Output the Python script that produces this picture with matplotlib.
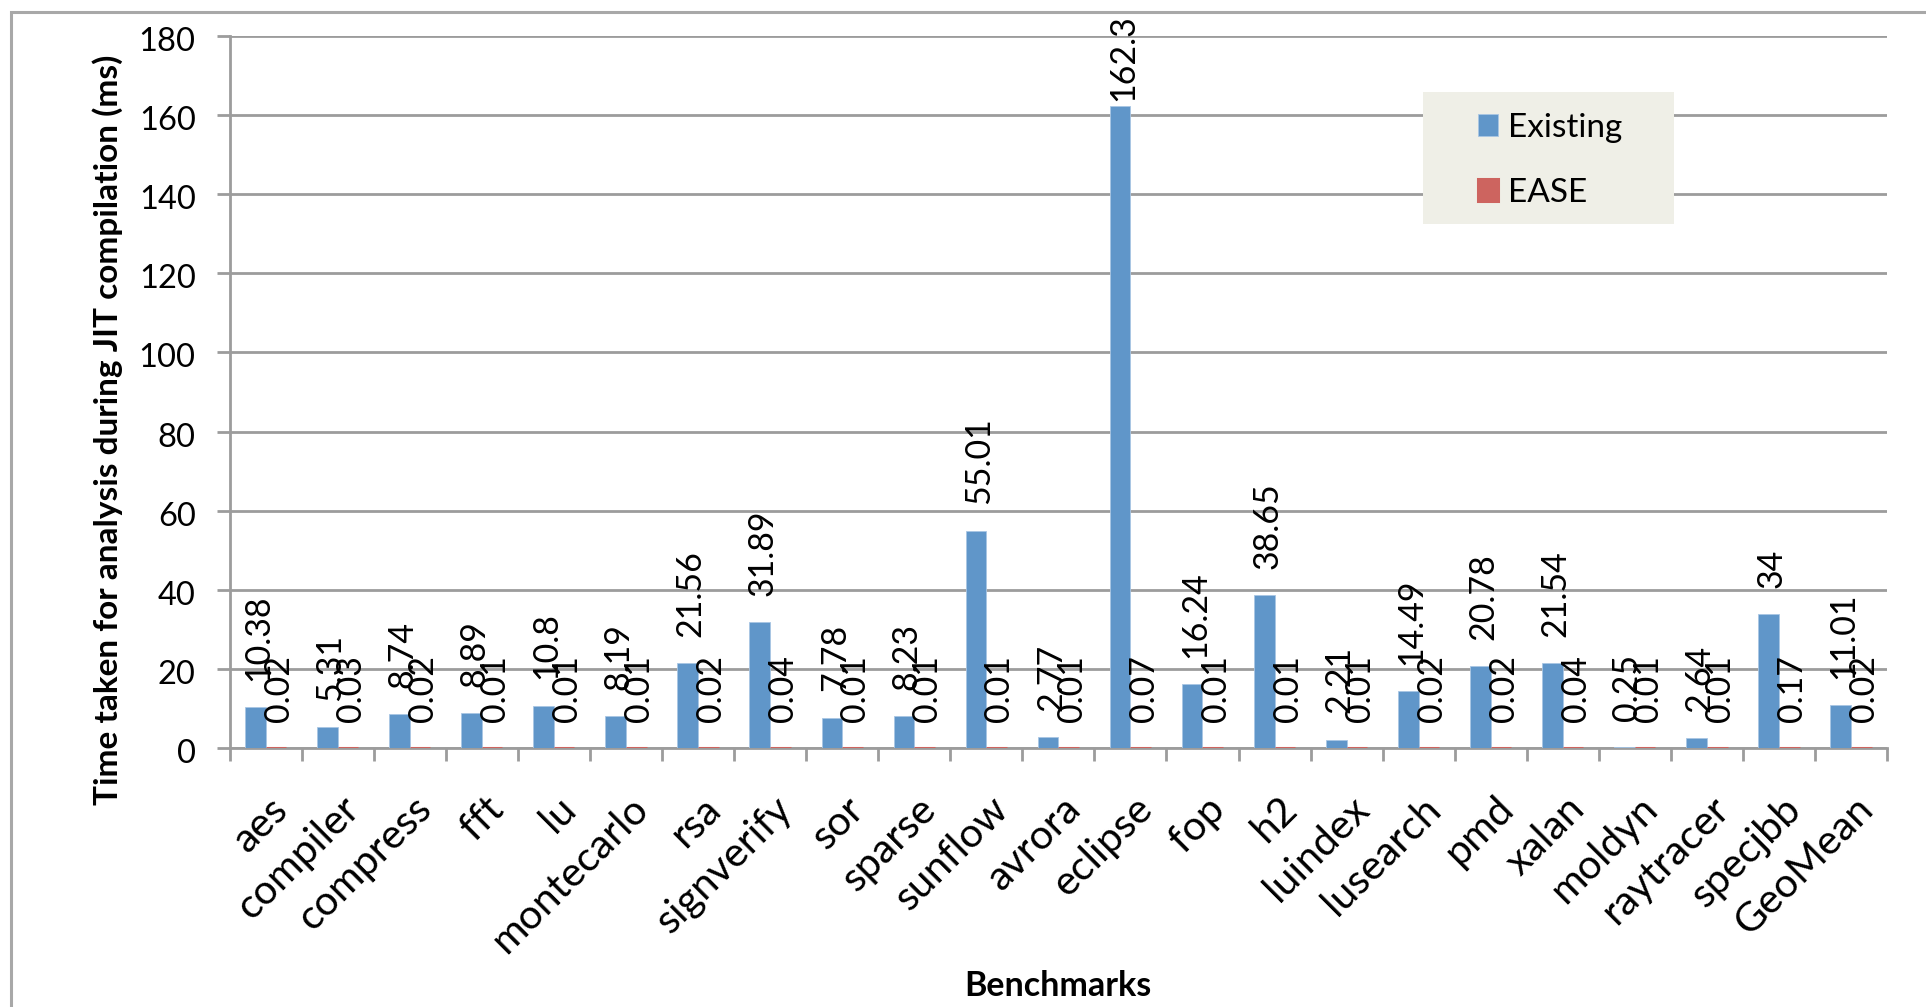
import matplotlib.pyplot as plt
from matplotlib.patches import Rectangle
from matplotlib.transforms import ScaledTranslation
import numpy as np

benchmarks = ['aes', 'compiler', 'compress', 'fft', 'lu', 'montecarlo', 'rsa',
              'signverify', 'sor', 'sparse', 'sunflow', 'avrora', 'eclipse', 'fop',
              'h2', 'luindex', 'lusearch', 'pmd', 'xalan', 'moldyn', 'raytracer',
              'specjbb', 'GeoMean']
existing = [10.38, 5.31, 8.74, 8.89, 10.8, 8.19, 21.56, 31.89, 7.78, 8.23, 55.01,
            2.77, 162.3, 16.24, 38.65, 2.21, 14.49, 20.78, 21.54, 0.25, 2.64, 34, 11.01]
ease = [0.02, 0.03, 0.02, 0.01, 0.01, 0.01, 0.02, 0.04, 0.01, 0.01, 0.01,
        0.01, 0.07, 0.01, 0.01, 0.01, 0.02, 0.02, 0.04, 0.01, 0.01, 0.17, 0.02]
existing_labels = ['10.38', '5.31', '8.74', '8.89', '10.8', '8.19', '21.56', '31.89',
                   '7.78', '8.23', '55.01', '2.77', '162.3', '16.24', '38.65', '2.21',
                   '14.49', '20.78', '21.54', '0.25', '2.64', '34', '11.01']
ease_labels = ['0.02', '0.03', '0.02', '0.01', '0.01', '0.01', '0.02', '0.04', '0.01',
               '0.01', '0.01', '0.01', '0.07', '0.01', '0.01', '0.01', '0.02', '0.02',
               '0.04', '0.01', '0.01', '0.17', '0.02']

plt.rcParams['font.family'] = ['Lato', 'DejaVu Sans']

BLUE = '#6096c9'
RED = '#cd645f'
GRID = '#9c9c9c'

fig = plt.figure(figsize=(19.26, 10.07), dpi=100)
ax = fig.add_axes([0.1192, 0.2569, 0.8606, 0.7076])

x = np.arange(len(benchmarks))
w = 1 / 3.5

b1 = ax.bar(x - w / 2, existing, w, color=BLUE, edgecolor='#a9c6e4', linewidth=0.6,
            zorder=3, label='Existing')
b2 = ax.bar(x + w / 2, ease, w, color=RED, edgecolor=RED, linewidth=2.2, zorder=3,
            label='EASE')

# value labels sit a fixed distance above each bar, kept inside the chart at the top
pad = 6.6
ceil = 163.5
for xi, v, s in zip(x, existing, existing_labels):
    ax.text(xi - w / 2 + 0.04, min(v + pad, ceil), s, rotation=90, ha='center',
            va='bottom', fontsize=24.5, zorder=4)
for xi, v, s in zip(x, ease, ease_labels):
    ax.text(xi + w / 2 + 0.04, min(v + pad, ceil), s, rotation=90, ha='center',
            va='bottom', fontsize=24.5, zorder=4)

ax.set_xlim(-0.5, len(benchmarks) - 0.5)
ax.set_ylim(0, 180)
ax.set_yticks(range(0, 181, 20))
ax.yaxis.grid(True, color=GRID, linewidth=2, zorder=0)
ax.set_axisbelow(True)

for side in ['top', 'right']:
    ax.spines[side].set_visible(False)
for side in ['left', 'bottom']:
    ax.spines[side].set_color(GRID)
    ax.spines[side].set_linewidth(2)

ax.tick_params(axis='y', length=9.4, width=2, color=GRID, pad=15, labelsize=23.5)
ax.set_xticks(x)
ax.set_xticks(np.arange(-0.5, len(benchmarks)), minor=True)
ax.tick_params(axis='x', which='minor', length=9.4, width=2, color=GRID)
ax.tick_params(axis='x', which='major', length=0, pad=30)
ax.set_xticklabels(benchmarks, rotation=45, ha='right', va='top',
                   rotation_mode='anchor', fontsize=29.5)
shift = ScaledTranslation(3 / 100, 0, fig.dpi_scale_trans)
for lbl in ax.get_xticklabels():
    lbl.set_transform(lbl.get_transform() + shift)
yshift = ScaledTranslation(0, -3 / 100, fig.dpi_scale_trans)
for lbl in ax.get_yticklabels():
    lbl.set_transform(lbl.get_transform() + yshift)

fig.text(1058 / 1926, 1 - 986 / 1007, 'Benchmarks', ha='center', va='center',
         fontsize=24.5, fontweight='bold')
fig.text(108 / 1926, 1 - 430 / 1007,
         'Time taken for analysis during JIT compilation (ms)',
         rotation=90, ha='center', va='center', fontsize=24, fontweight='bold')

# outer chart border, running off the right and bottom edges
fig.add_artist(Rectangle((11 / 1926, -0.2), 1.2, 1.2 - 12 / 1007,
                         transform=fig.transFigure, fill=False,
                         edgecolor='#a8a8a8', linewidth=2.2))

# legend on a flat beige panel
ax.add_patch(Rectangle((1423 / 1926, 1 - 224 / 1007), 251 / 1926, 132 / 1007,
                       transform=fig.transFigure, facecolor='#efefe7',
                       edgecolor='none', zorder=5, clip_on=False))
leg = ax.legend(handles=[b1, b2], loc='upper left',
                bbox_to_anchor=(1451 / 1926, 1 - 86 / 1007),
                bbox_transform=fig.transFigure, frameon=False, fontsize=24,
                handlelength=0.62, handleheight=0.62, handletextpad=0.3,
                labelspacing=1.05, borderpad=0.3)
leg.set_zorder(6)

fig.savefig('out.png', dpi=100)
